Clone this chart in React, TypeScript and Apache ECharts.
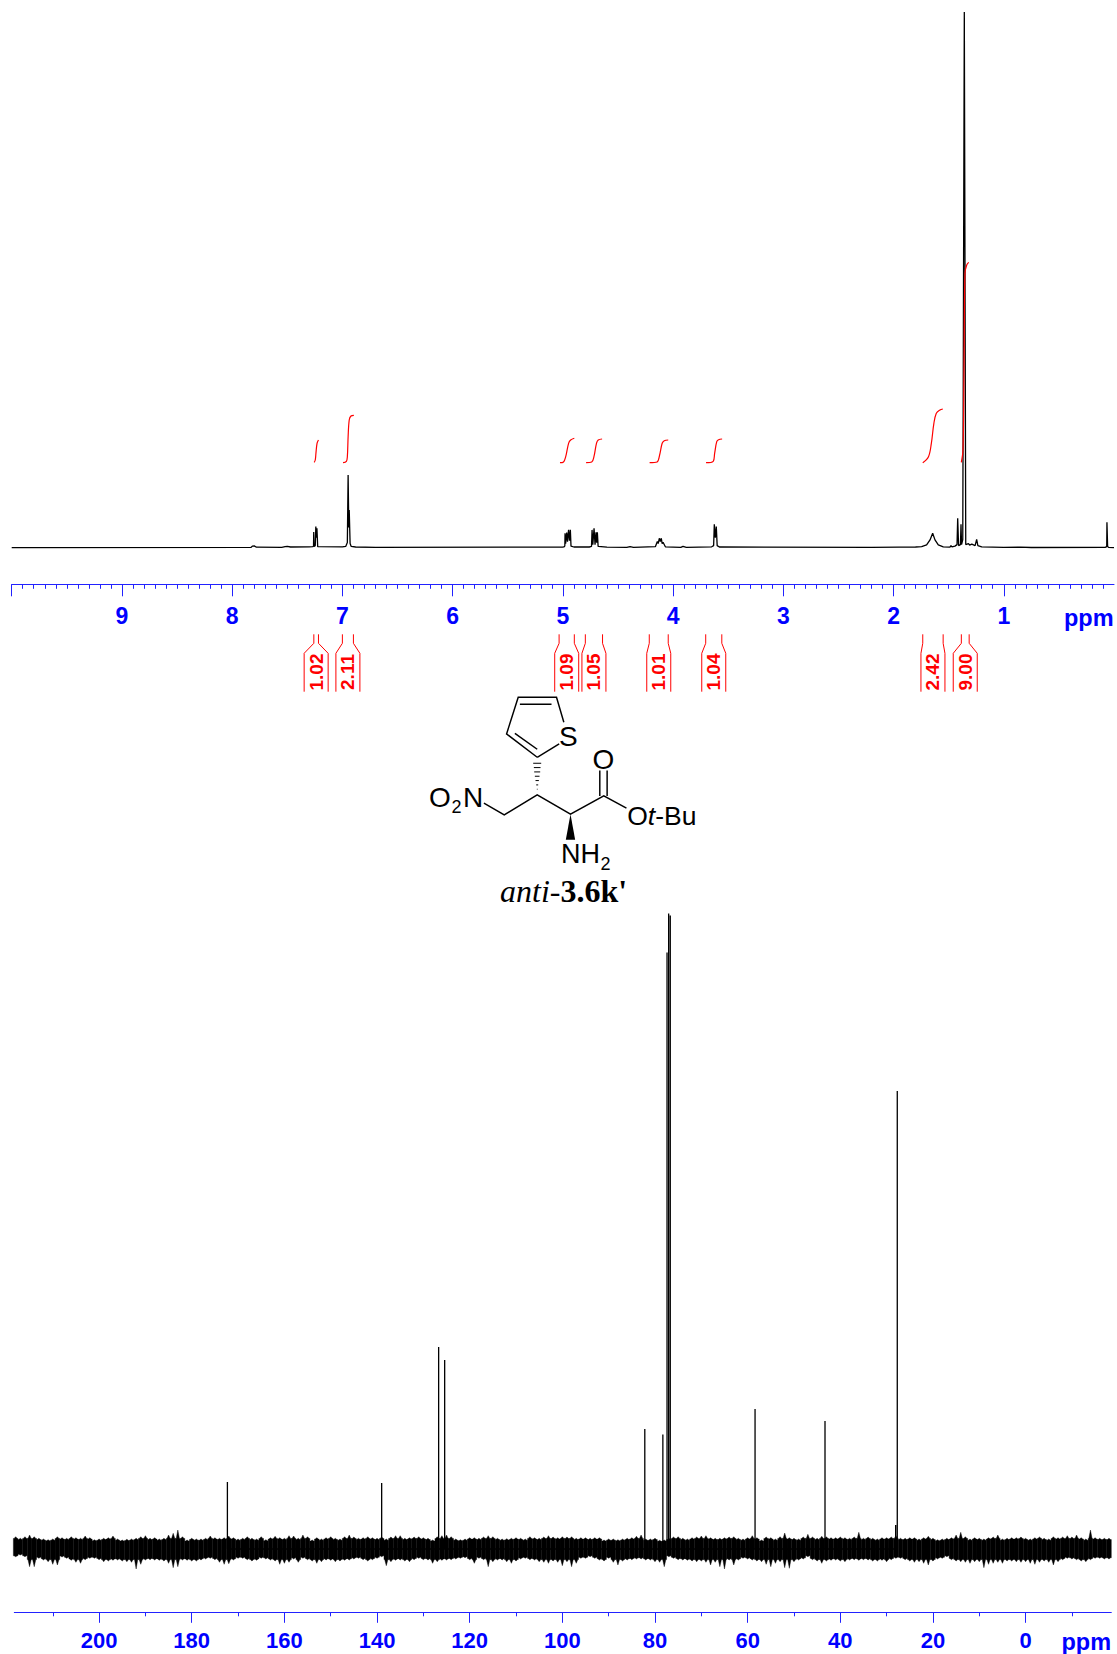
import React, { useEffect, useRef } from "react";
import * as echarts from "echarts";

// ---------- 1H spectrum (ppm, height above baseline) ----------
const hSpectrum: number[][] = [
  [10, 0], [7.83, 0.2], [7.815, 1.5], [7.8, 1.7], [7.78, 0.4], [7.55, 0.3], [7.52, 1], [7.5, 1.3], [7.47, 0.6],
  [7.3, 0.8], [7.27, 1], [7.262, 1.2], [7.26, 15.7], [7.257, 1.2], [7.246, 2], [7.241, 21], [7.236, 10], [7.231, 19.3], [7.224, 1],
  [7.0, 0.8], [6.97, 1.2], [6.955, 5], [6.948, 72.7], [6.942, 20], [6.938, 37.7], [6.93, 4], [6.92, 1.2], [6.88, 0.6], [6.7, 0.2],
  [5.0, 0.5], [4.985, 1], [4.982, 2], [4.98, 14.3], [4.975, 4], [4.965, 15], [4.958, 6], [4.948, 17.7], [4.94, 7], [4.932, 17.7], [4.926, 1.5], [4.9, 0.6],
  [4.76, 0.6], [4.74, 1.2], [4.735, 17.7], [4.728, 3], [4.717, 19.3], [4.708, 3], [4.699, 15.3], [4.693, 5], [4.687, 15.3], [4.68, 1.2], [4.6, 0.4],
  [4.42, 0.3], [4.39, 1], [4.36, 0.3], [4.16, 1], [4.143, 6], [4.135, 4], [4.125, 9.3], [4.116, 6], [4.107, 9.3], [4.099, 4], [4.091, 5.3], [4.07, 0.8],
  [3.93, 0.3], [3.91, 1.3], [3.88, 0.3], [3.65, 0.8], [3.632, 2], [3.626, 23.3], [3.617, 10], [3.608, 21], [3.6, 2], [3.58, 0.6],
  [2.2, 0.2], [1.95, 0.4], [1.8, 0.6], [1.745, 1], [1.7, 2.7], [1.669, 7.7], [1.645, 14.3], [1.624, 7.7], [1.594, 2.7], [1.549, 0.7],
  [1.488, 0.5], [1.479, 2], [1.47, 0.7], [1.443, 1.5], [1.424, 3], [1.418, 29.3], [1.41, 2], [1.393, 3], [1.388, 23.3], [1.383, 3], [1.372, 8],
  [1.358, 535.6], [1.345, 3], [1.32, 4], [1.31, 2.5], [1.29, 3.5], [1.26, 2], [1.246, 8.3], [1.235, 2], [1.2, 0.7], [1.0, 0.2], [0.85, 0.4], [0.75, 0.1],
  [0.08, 0.3], [0.066, 1], [0.064, 25.3], [0.058, 1], [0.05, 0.3], [0, 0],
];

const hIntegralCurves: number[][][] = [
  [[7.256, 85.3], [7.246, 87.6], [7.24, 94.3], [7.23, 104.3], [7.217, 107.6]],
  [[6.994, 84.9], [6.964, 86.3], [6.955, 90.9], [6.948, 110.9], [6.938, 127.6], [6.922, 131.6], [6.896, 132.3]],
  [[5.026, 84.9], [4.994, 85.6], [4.974, 90.9], [4.948, 104.3], [4.929, 107.6], [4.896, 109.3]],
  [[4.789, 84.9], [4.738, 85.6], [4.718, 90.9], [4.695, 104.3], [4.679, 107.6], [4.644, 108.6]],
  [[4.213, 84.9], [4.145, 85.6], [4.122, 92.6], [4.099, 104.3], [4.08, 106.9], [4.044, 107.6]],
  [[3.701, 84.9], [3.636, 86.3], [3.623, 94.3], [3.604, 105.9], [3.588, 107.9], [3.555, 108.6]],
  [[1.735, 84.9], [1.683, 90.9], [1.657, 104.3], [1.634, 124.3], [1.612, 134.3], [1.579, 137.6], [1.553, 138.6]],
  [[1.385, 85.3], [1.37, 97.6], [1.361, 174.3], [1.352, 274.3], [1.336, 282.6], [1.318, 285.3]],
];

const integralLabels = ["1.02", "2.11", "1.09", "1.05", "1.01", "1.04", "2.42", "9.00"];
const integralStart = [7.259, 7.0, 5.034, 4.796, 4.216, 3.704, 1.735, 1.385];
const integralEnd = [7.217, 6.9, 4.896, 4.64, 4.044, 3.558, 1.55, 1.314];

const hTickLabels = [9, 8, 7, 6, 5, 4, 3, 2, 1];
const hMajorTicks = [10, 9, 8, 7, 6, 5, 4, 3, 2, 1];

// ---------- 13C spectrum ----------
const cPeakPpm = [172.3, 139.0, 126.7, 125.4, 82.2, 78.3, 77.4, 77.05, 76.7, 58.4, 43.3, 28.05, 27.7];
const cPeakHeight = [67, 66, 202, 189, 120, 114.5, 596.5, 635.5, 633.4, 140, 128, 24, 458];

const cTickLabels = [200, 180, 160, 140, 120, 100, 80, 60, 40, 20, 0];
const cMinorTicks = [210, 190, 170, 150, 130, 110, 90, 70, 50, 30, 10, -10];

// noise envelope, one sample per ppm starting at 218 ppm
const noiseStartPpm = 218;
const noiseUpper = [
  12.3, 10.7, 12.3, 14, 12.3, 10.7, 10, 9.3, 10, 12.3, 11.3, 10.7, 12.3, 11.3, 10.7, 13, 11.3, 9.3, 10, 10.7,
  11.3, 13, 10, 9, 9.7, 10, 10.7, 12.3, 13.3, 10.7, 11.3, 10, 10.7, 14, 15.7, 19, 12.3, 9, 10.7, 10,
  10, 10.7, 13, 11.3, 10.7, 11.3, 13, 11.3, 10, 10.7, 12.3, 10.7, 10, 12.3, 9.3, 11.3, 12.7, 11.3, 10.7, 13.3,
  13, 10.7, 14, 12.3, 9, 11.3, 10, 11.3, 12.3, 10.7, 10, 12.3, 14, 12, 10.7, 11.3, 12.3, 11.3, 10.7, 12,
  10, 12, 13.3, 13.3, 10.7, 11.3, 12, 12.3, 11.3, 10.7, 9, 12.3, 13.3, 14, 12.3, 10, 9.3, 10, 11.3, 11.3,
  10.7, 12, 13.3, 12.3, 10.7, 10, 10.3, 10.7, 11.3, 10.7, 10, 12.3, 11.3, 10.7, 12, 13.3, 12, 11.3, 12.3, 12,
  12.3, 10.7, 11.3, 11.3, 10.7, 11.3, 11.3, 9, 10, 10, 9.3, 10, 10.7, 11.3, 12.7, 14, 10, 10, 10.7, 8.7,
  9, 10.7, 12, 12.3, 10.7, 10, 11.3, 12, 13, 13.3, 11.3, 10.7, 10.7, 11.3, 12, 12.3, 10.7, 10, 11.3, 13.3,
  11.3, 9, 12, 11.3, 10, 12.3, 16, 11.3, 10.7, 10, 12, 14.7, 12, 10.7, 12.7, 12.3, 11.3, 11.3, 12,
  11.3, 10.7, 12, 16.7, 10.7, 12, 10.7, 10, 11.3, 11.3, 12, 13.3, 10.7, 10.7, 11.3, 11.3, 10, 11.3, 12.7, 10.7,
  9.3, 10, 10.7, 11.3, 14, 16.7, 12.3, 10, 11.3, 10.7, 10, 11.3, 12, 14, 10, 10.7, 11.3, 11.3, 12, 10.7,
  10, 11.3, 12, 10.7, 10, 12.3, 11.3, 12, 13.3, 12, 14, 11.3, 10, 19, 11.3, 10.7, 10.7, 10.7,
];
const noiseLower = [
  -7.7, -6, -7.7, -17.7, -17.7, -9.3, -11, -12.7, -15.3, -16, -8, -9.3, -11.3, -13.3, -14.3, -10.7, -9.3, -9.3, -10.7, -12.7,
  -12, -11.3, -11, -12, -12.7, -13.3, -20, -15.3, -11, -10.7, -11, -11.3, -12, -14.3, -18.7, -17.7, -11, -11.3, -12, -12,
  -11, -10, -9.3, -10.7, -13.3, -15.3, -14.7, -11, -9.3, -9.3, -10.7, -12, -11.3, -9.3, -10, -11, -12, -15.3, -14.3, -13.3,
  -10, -13.3, -9.3, -10.7, -12, -14.3, -12.7, -11, -11.3, -12.7, -12, -11.3, -11, -10, -9.3, -10.7, -12, -10.7, -9.3, -7.7,
  -16.7, -12.7, -11.3, -11, -12, -12.7, -10.7, -9.3, -10.7, -11, -14.3, -12.7, -11.3, -11, -10.7, -10, -9.3, -8.7, -10.7, -14.3,
  -9.3, -10.7, -17.7, -12.7, -11, -11, -12.7, -14.3, -12, -10, -9.3, -10.7, -11, -12.7, -13.3, -14.3, -12, -13.3, -16.7, -12.7,
  -17.7, -14.3, -9.3, -9.3, -7.7, -9.3, -11, -12, -9.3, -13.3, -16, -12, -11, -10.7, -10, -10, -11, -11, -12.7, -13.3,
  -17.7, -7.7, -9.3, -10.7, -11, -11.3, -12, -12.7, -12, -13.3, -16, -13.3, -17.7, -20, -11, -16, -11, -9.3, -10,
  -11, -12, -12.7, -15.3, -17.7, -14.3, -12.7, -18.7, -19.3, -12.7, -11, -10, -7.7, -10.7, -12, -14.3, -12, -11.3, -11, -12,
  -12.7, -11, -10.7, -11.3, -10.7, -11, -12, -12, -11.3, -12.7, -10.7, -9.3, -9.3, -10.7, -12, -13.3, -12.7, -14.3, -16, -12,
  -10, -9.3, -7.7, -10.7, -12, -12.7, -13.3, -14.3, -12.7, -12.7, -18.7, -15.3, -14.3, -13.3, -14.3, -12, -12, -12.7, -13.3, -12.7,
  -14.3, -15.3, -13.3, -12, -13.3, -16, -12.7, -10.7, -9.3, -10, -10.7, -12, -12.7, -10.7, -9.3, -9.3, -10, -10,
];

const FONT = "'Liberation Sans', Arial, sans-serif";
const SERIF = "'Liberation Serif', 'Times New Roman', serif";
const AXIS_LINE = "#2222ff";
const AXIS_TEXT = "#0000ff";
const RED = "#ff0000";

const H_AXIS_Y = 584.3;
const BR = { top: 634.3, bend: 643.3, shoulder: 653.3, bottom: 691.7, half: 12, text: 672 };
const NOISE_BODY = 0.88; // solid part of the band relative to its envelope
const NOISE_TIP = 0.7; // width of a spike's foot relative to a half sample

// molecule drawn in a 3x local frame
const molLines: number[][][] = [
  [[412, 232], [478, 192]],
  [[492, 127], [470, 52], [355, 52], [320, 162], [412, 232]],
  [[360, 73], [455, 73]],
  [[345, 160], [412, 208]],
  [[252, 370], [313, 405], [412, 345], [512, 403], [612, 348], [680, 385]],
  [[600, 348], [600, 272]],
  [[622, 348], [622, 272]],
];
const molHash: number[][][] = [
  [[400, 250], [424, 250]],
  [[402, 263], [422, 263]],
  [[403, 276], [421, 276]],
  [[405, 289], [419, 289]],
  [[407, 302], [417, 302]],
  [[409, 315], [415, 315]],
  [[411, 328], [413, 328]],
];

export default function App() {
  const ref = useRef<HTMLDivElement>(null);
  useEffect(() => {
    const chart = echarts.init(ref.current!, undefined, { renderer: "svg" });

    const molGroup: any = {
      type: "group",
      x: 400,
      y: 680,
      scaleX: 1 / 3,
      scaleY: 1 / 3,
      children: [
        ...molLines.map((points) => ({
          type: "polyline",
          shape: { points },
          style: { stroke: "#000", lineWidth: 4.4, fill: "none", lineJoin: "miter" },
        })),
        ...molHash.map((points) => ({
          type: "polyline",
          shape: { points },
          style: { stroke: "#000", lineWidth: 3, fill: "none" },
        })),
        {
          type: "polygon",
          shape: { points: [[512, 403], [498, 480], [526, 480]] },
          style: { fill: "#000" },
        },
      ],
    };

    const molText = (text: string, x: number, y: number, size = 28, align = "center") => ({
      type: "text",
      x,
      y,
      style: { text, font: `${size}px ${FONT}`, fill: "#000", align, verticalAlign: "middle" },
    });

    const major = (values: number[], labels: number[], fontSize: number, margin: number, len: number, gridIndex: number) => ({
      type: "value",
      gridIndex,
      inverse: true,
      position: "bottom",
      axisLine: { show: true, onZero: false, lineStyle: { color: AXIS_LINE, width: 1 } },
      axisTick: { show: true, length: len, customValues: values, lineStyle: { color: AXIS_LINE, width: 1 } },
      axisLabel: {
        show: true,
        customValues: labels,
        margin,
        color: AXIS_TEXT,
        fontFamily: FONT,
        fontWeight: "bold",
        fontSize,
        formatter: (v: number) => String(v),
      },
      splitLine: { show: false },
    });
    const minor = (values: number[], len: number, gridIndex: number) => ({
      type: "value",
      gridIndex,
      inverse: true,
      position: "bottom",
      axisLine: { show: false, onZero: false },
      axisTick: { show: true, length: len, customValues: values, lineStyle: { color: AXIS_LINE, width: 1 } },
      axisLabel: { show: false },
      splitLine: { show: false },
    });

    const hMinorTicks: number[] = [];
    for (let i = 1; i < 100; i++) if (i % 10 !== 0) hMinorTicks.push(i / 10);

    const option: any = {
      animation: false,
      backgroundColor: "#fff",
      grid: [
        { left: 11.7, width: 1102.3, top: 11, height: H_AXIS_Y - 11 },
        { left: 14.3, width: 1097, top: 913, height: 699.3 },
      ],
      xAxis: [
        { ...major(hMajorTicks, hTickLabels, 23, 20, 12, 0), min: 0, max: 10 },
        { ...minor(hMinorTicks, 4.5, 0), min: 0, max: 10 },
        { ...major(cTickLabels, cTickLabels, 22, 17, 10.5, 1), min: -18.5, max: 218.3 },
        { ...minor(cMinorTicks, 4, 1), min: -18.5, max: 218.3 },
      ],
      yAxis: [
        { type: "value", gridIndex: 0, show: false, min: -36.7, max: 536.6 },
        { type: "value", gridIndex: 1, show: false, min: -63.3, max: 636 },
      ],
      series: [
        {
          type: "line",
          xAxisIndex: 0,
          yAxisIndex: 0,
          data: hSpectrum,
          showSymbol: false,
          symbol: "none",
          z: 2,
          lineStyle: { color: "#000", width: 1.3 },
        },
        ...hIntegralCurves.map((curve) => ({
          type: "line",
          xAxisIndex: 0,
          yAxisIndex: 0,
          data: curve,
          smooth: 0.35,
          showSymbol: false,
          symbol: "none",
          z: 3,
          lineStyle: { color: RED, width: 1.2 },
        })),
        {
          type: "custom",
          xAxisIndex: 0,
          yAxisIndex: 0,
          clip: false,
          z: 3,
          encode: { x: [0, 1], y: 2 },
          data: integralStart.map((s, i) => [s, integralEnd[i], 0]),
          renderItem: (params: any, api: any) => {
            const xl = api.coord([api.value(0), 0])[0];
            const xr = api.coord([api.value(1), 0])[0];
            const c = (xl + xr) / 2;
            const line = (pts: number[][]) => ({
              type: "polyline",
              shape: { points: pts },
              style: { stroke: RED, lineWidth: 1, fill: "none" },
            });
            return {
              type: "group",
              children: [
                line([[xl, BR.top], [xl, BR.bend], [c - BR.half, BR.shoulder], [c - BR.half, BR.bottom]]),
                line([[xr, BR.top], [xr, BR.bend], [c + BR.half, BR.shoulder], [c + BR.half, BR.bottom]]),
                {
                  type: "text",
                  x: c,
                  y: BR.text,
                  rotation: Math.PI / 2,
                  style: {
                    text: integralLabels[params.dataIndex],
                    font: `bold 19px ${FONT}`,
                    fill: RED,
                    align: "center",
                    verticalAlign: "middle",
                  },
                },
              ],
            };
          },
        },
        {
          type: "custom",
          xAxisIndex: 2,
          yAxisIndex: 1,
          z: 2,
          encode: { x: 0, y: [1, 2] },
          data: noiseUpper.map((u, i) => [noiseStartPpm - i, u, noiseLower[i]]),
          renderItem: (params: any, api: any) => {
            const p = api.value(0);
            const u = api.value(1);
            const l = api.value(2);
            const [x, yc] = api.coord([p, 0]);
            const top = api.coord([p, u])[1];
            const bot = api.coord([p, l])[1];
            const topBody = api.coord([p, Math.min(u, 12) * NOISE_BODY])[1];
            const botBody = api.coord([p, Math.max(l, -12) * NOISE_BODY])[1];
            const s = api.size([1, 0])[0] / 2;
            const t = s * NOISE_TIP;
            return {
              type: "polygon",
              shape: {
                points: [
                  [x - s, topBody],
                  [x - t, topBody],
                  [x, top],
                  [x + t, topBody],
                  [x + s, topBody],
                  [x + s, botBody],
                  [x + t, botBody],
                  [x, bot],
                  [x - t, botBody],
                  [x - s, botBody],
                ],
              },
              style: { fill: "#000", stroke: "#000", lineWidth: 0.4 },
            };
          },
        },
        {
          type: "line",
          xAxisIndex: 2,
          yAxisIndex: 1,
          data: cPeakPpm.flatMap((p, i) => [[p, 0], [p, cPeakHeight[i]], [p, 0]]),
          showSymbol: false,
          symbol: "none",
          z: 3,
          lineStyle: { color: "#000", width: 1.3 },
        },
      ],
      graphic: [
        {
          type: "text",
          x: 1064,
          y: 618,
          style: { text: "ppm", font: `bold 23.5px ${FONT}`, fill: AXIS_TEXT, align: "left", verticalAlign: "middle" },
        },
        {
          type: "text",
          x: 1061.5,
          y: 1641.5,
          style: { text: "ppm", font: `bold 23.5px ${FONT}`, fill: AXIS_TEXT, align: "left", verticalAlign: "middle" },
        },
        molGroup,
        molText("S", 568.3, 736.7),
        molText("O", 603.3, 759),
        molText("O", 440, 797.3),
        molText("2", 456.5, 806.7, 18),
        molText("N", 473, 797.3),
        {
          type: "text",
          x: 627.2,
          y: 816,
          style: {
            text: "{a|O}{i|t}{a|-Bu}",
            align: "left",
            verticalAlign: "middle",
            rich: {
              a: { font: `26.5px ${FONT}`, fill: "#000" },
              i: { font: `italic 26.5px ${FONT}`, fill: "#000" },
            },
          },
        },
        molText("NH", 561, 854, 27, "left"),
        molText("2", 605.5, 864.3, 18),
        {
          type: "text",
          x: 500,
          y: 890.7,
          style: {
            text: "{i|anti-}{b|3.6k'}",
            align: "left",
            verticalAlign: "middle",
            rich: {
              i: { font: `italic 32px ${SERIF}`, fill: "#000" },
              b: { font: `bold 32px ${SERIF}`, fill: "#000" },
            },
          },
        },
      ],
    };
    chart.setOption(option);
    return () => chart.dispose();
  }, []);
  return <div ref={ref} style={{ position: "absolute", left: 0, top: 0, width: 1117, height: 1654 }} />;
}
